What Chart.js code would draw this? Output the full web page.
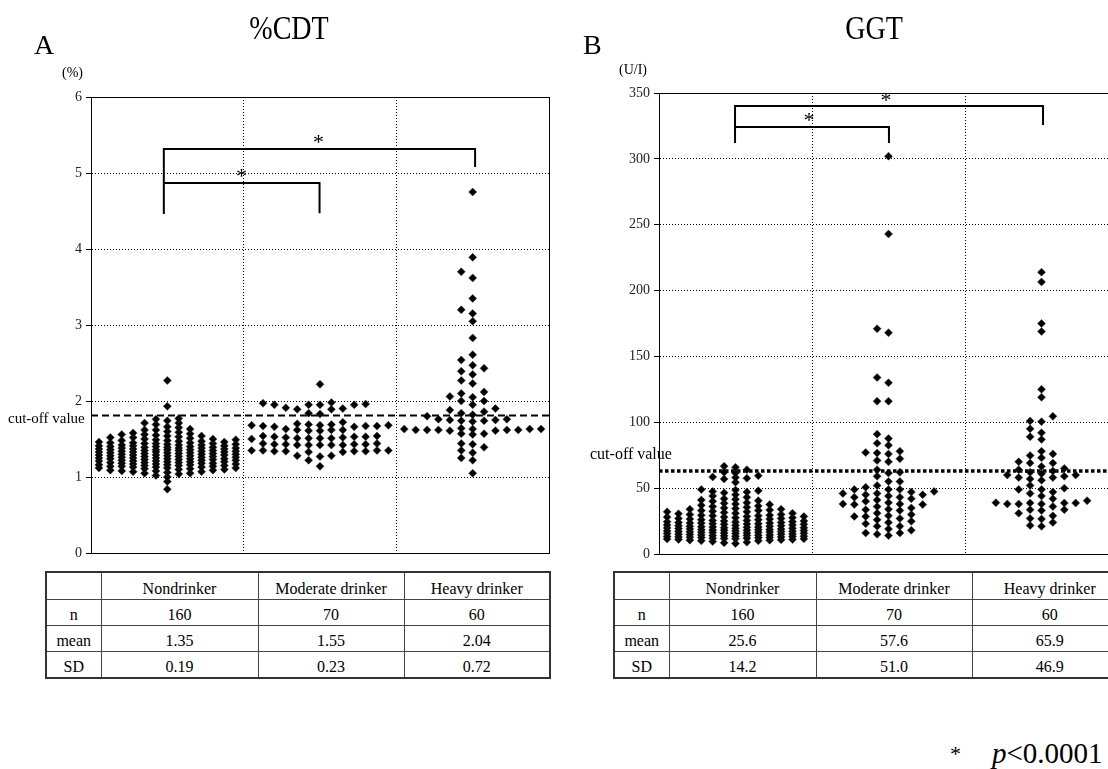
<!DOCTYPE html>
<html>
<head>
<meta charset="utf-8">
<script src="https://cdn.jsdelivr.net/npm/chart.js@4.4.0/dist/chart.umd.min.js"></script>
<style>
  body { margin: 0; width: 1108px; height: 769px; overflow: hidden; background: #fff; position: relative;
         font-family: "Liberation Serif", "DejaVu Serif", serif; color: #000; }
  canvas { position: absolute; top: 0; }
  .txt { position: absolute; line-height: 1; white-space: nowrap; }
  .title { transform-origin: center top; transform: scaleX(0.85); }
  table.stats { position: absolute; border-collapse: collapse; table-layout: fixed; font-size: 16px;
                border: 2px solid #333; }
  table.stats td { border: 1px solid #444; text-align: center; padding: 0; height: 23px; line-height: 1; vertical-align: bottom; padding-bottom: 2px; }
  table.stats tr:first-child td { height: 24px; }
</style>
</head>
<body>
<canvas id="cdt" width="560" height="570" style="left:0"></canvas>
<canvas id="ggt" width="580" height="570" style="left:560px"></canvas>

<div class="txt" style="left:34px;top:31px;font-size:28px">A</div>
<div class="txt title" style="left:239px;top:12px;width:100px;text-align:center;font-size:33px">%CDT</div>
<div class="txt" style="left:62px;top:66px;font-size:14px">(%)</div>
<div class="txt" style="left:8px;top:411px;font-size:15px">cut-off value</div>

<div class="txt" style="left:583px;top:31px;font-size:28px">B</div>
<div class="txt title" style="left:824px;top:12px;width:100px;text-align:center;font-size:33px">GGT</div>
<div class="txt" style="left:619px;top:63px;font-size:14px">(U/I)</div>
<div class="txt" style="left:590px;top:446px;font-size:16px">cut-off value</div>

<table class="stats" id="tblA" style="left:45px;top:571px;width:504px"></table>
<table class="stats" id="tblB" style="left:613px;top:571px;width:514px"></table>

<div class="txt" style="left:950px;top:743px;font-size:22px">*</div>
<div class="txt" style="left:992px;top:739px;font-size:29px"><i>p</i>&lt;0.0001</div>

<script>
const GROUPS = ['Nondrinker', 'Moderate drinker', 'Heavy drinker'];

// ---- A: %CDT ----
const cdtNondrinker = [
  2.27, 1.93, 1.77, 1.76, 1.74, 1.71, 1.71, 1.69, 1.66, 1.65, 1.63, 1.62, 1.62, 1.60, 1.59, 1.58,
  1.57, 1.56, 1.56, 1.55, 1.54, 1.54, 1.53, 1.52, 1.52, 1.51, 1.50, 1.50, 1.49, 1.49, 1.48, 1.48,
  1.47, 1.47, 1.46, 1.46, 1.45, 1.45, 1.44, 1.44, 1.44, 1.43, 1.43, 1.42, 1.42, 1.42, 1.41, 1.41,
  1.40, 1.40, 1.40, 1.39, 1.39, 1.39, 1.38, 1.38, 1.38, 1.37, 1.37, 1.37, 1.36, 1.36, 1.36, 1.35,
  1.35, 1.35, 1.34, 1.34, 1.34, 1.33, 1.33, 1.33, 1.32, 1.32, 1.32, 1.31, 1.31, 1.31, 1.30, 1.30,
  1.30, 1.29, 1.29, 1.29, 1.28, 1.28, 1.28, 1.27, 1.27, 1.27, 1.26, 1.26, 1.26, 1.25, 1.25, 1.25,
  1.24, 1.24, 1.24, 1.23, 1.23, 1.23, 1.22, 1.22, 1.22, 1.21, 1.21, 1.21, 1.20, 1.20, 1.20, 1.19,
  1.19, 1.19, 1.18, 1.18, 1.18, 1.17, 1.17, 1.17, 1.16, 1.16, 1.16, 1.15, 1.15, 1.15, 1.14, 1.14,
  1.14, 1.13, 1.13, 1.13, 1.12, 1.12, 1.12, 1.11, 1.11, 1.10, 1.10, 1.09, 1.09, 1.08, 1.08, 1.07,
  1.07, 1.06, 1.05, 1.05, 1.04, 1.02, 1.00, 0.94, 0.84, 1.36, 1.33, 1.29, 1.41, 1.45, 1.24, 1.38
];
const cdtModerate = [
  2.22,
  1.98, 1.96, 1.95, 1.95, 1.95, 1.95, 1.97,
  1.90, 1.89, 1.89, 1.91,
  1.84, 1.83,
  1.72, 1.69, 1.68, 1.67, 1.68, 1.67, 1.66, 1.67, 1.68, 1.69, 1.70, 1.66,
  1.62, 1.62, 1.61, 1.62, 1.63, 1.61,
  1.53, 1.52, 1.51, 1.50, 1.51, 1.53, 1.54, 1.53, 1.54, 1.51, 1.51, 1.52,
  1.43, 1.42, 1.42, 1.43, 1.44, 1.43, 1.42, 1.42, 1.43, 1.44, 1.42,
  1.35, 1.34, 1.33, 1.33, 1.34, 1.35, 1.34, 1.34, 1.35, 1.35,
  1.28, 1.27, 1.28,
  1.22, 1.14
];
const cdtHeavy = [
  4.75, 3.89, 3.70, 3.62, 3.35, 3.20, 3.15, 3.05, 2.83, 2.61,
  2.54, 2.47, 2.43, 2.39, 2.35, 2.27, 2.23, 2.12, 2.10, 2.06,
  2.05, 2.00, 2.00, 1.95, 1.90, 1.88, 1.86, 1.84, 1.82, 1.80,
  1.76, 1.76, 1.75, 1.74, 1.74, 1.73, 1.75,
  1.63, 1.62, 1.61, 1.62, 1.63, 1.62, 1.63, 1.64, 1.61, 1.62, 1.62, 1.63,
  1.57, 1.56, 1.57,
  1.44, 1.43, 1.39, 1.35, 1.32, 1.25, 1.22, 1.05
];
const cdtTicks = [0, 1, 2, 3, 4, 5, 6];
const cdtCutoff = 1.81;
const cdtN = [160, 70, 60];
const cdtMean = ['1.35', '1.55', '2.04'];
const cdtSD = ['0.19', '0.23', '0.72'];

// ---- B: GGT ----
const ggtNondrinker = [
  66.6, 65.8, 64.0, 62.0, 61.5, 59.5, 58.5, 58.0, 57.5, 57.0, 54.4, 49.0, 48.5, 48.0, 47.5, 47.0,
  46.5, 45.0, 44.0, 43.0, 42.0, 41.5, 41.0, 40.5, 40.0, 39.0, 38.5, 38.0, 37.5, 37.0, 36.5, 36.0,
  35.5, 35.0, 34.5, 34.0, 34.0, 33.5, 33.0, 33.0, 32.5, 32.0, 32.0, 31.5, 31.0, 31.0, 30.5, 30.0,
  30.0, 29.5, 29.5, 29.0, 29.0, 28.5, 28.5, 28.0, 28.0, 27.5, 27.5, 27.0, 27.0, 26.5, 26.5, 26.0,
  26.0, 25.5, 25.5, 25.0, 25.0, 24.5, 24.5, 24.0, 24.0, 23.5, 23.5, 23.0, 23.0, 22.5, 22.5, 22.0,
  22.0, 21.5, 21.5, 21.0, 21.0, 20.5, 20.5, 20.0, 20.0, 19.5, 19.5, 19.0, 19.0, 18.5, 18.5, 18.0,
  18.0, 17.5, 17.5, 17.0, 17.0, 16.5, 16.5, 16.0, 16.0, 15.5, 15.5, 15.0, 15.0, 14.5, 14.5, 14.0,
  14.0, 13.5, 13.5, 13.0, 13.0, 12.5, 12.5, 12.0, 12.0, 11.5, 11.5, 11.0, 11.0, 10.5, 10.5, 10.0,
  10.0, 9.5, 9.0, 8.5, 8.0, 13.2, 16.8, 19.3, 23.6, 21.8, 17.2, 14.8, 12.3, 15.7, 18.6, 11.8,
  20.7, 24.3, 13.8, 16.3, 19.8, 12.8, 22.8, 15.2, 17.8, 10.8, 14.3, 18.2, 20.3, 11.3, 16.7, 13.3
];
const ggtModerate = [
  302, 243, 171, 168, 134, 130, 116, 116,
  91, 87.6, 82.5, 84, 78, 76.7, 76, 77,
  72.4, 70, 71, 64, 61.5, 59, 62, 55, 55,
  45, 43, 49, 49, 46, 46, 47.5, 49, 50.6, 43, 45,
  41, 37.5, 38, 37.5, 36, 38, 40, 42,
  29, 28.5, 24.8, 28.5, 30, 33.6, 34,
  24, 21, 16, 15, 14, 16, 19, 21,
  44, 39, 35, 31, 27, 26, 23, 18, 47, 52, 33
];
const ggtHeavy = [
  214, 206.6, 175, 169, 125, 119, 104.5, 101, 100.5, 95, 92, 87, 89,
  78, 74.7, 76, 73, 70, 69, 69, 66.5, 64, 65, 62, 60, 58, 58, 60, 57,
  49, 46, 49, 40.5, 38.7, 38, 38, 38.7, 38.7, 38, 33.6, 33, 33.6, 27, 29, 26.6, 21.7, 21,
  63, 61, 59, 56, 52, 50, 47, 44, 42, 39, 36, 31, 24
];
const ggtTicks = [0, 50, 100, 150, 200, 250, 300, 350];
const ggtCutoff = 63;
const ggtN = [160, 70, 60];
const ggtMean = ['25.6', '57.6', '65.9'];
const ggtSD = ['14.2', '51.0', '46.9'];

// swarm layout (pixels): dense nondrinker column packs tighter than the others
const SLOT_PX = 11.4, SIDE_SLOTS = 6;
const GAPS_PX = [4.5, 6.5, 6.5];
const slotOrder = [0];
for (let k = 1; k <= SIDE_SLOTS; k++) slotOrder.push(-k, k);

Chart.defaults.font.family = "'Liberation Serif', 'DejaVu Serif', serif";
Chart.defaults.color = '#000';

function swarm(chart, values, center, gap) {
  const xs = chart.scales.x, ys = chart.scales.y;
  const unit = xs.getPixelForValue(1) - xs.getPixelForValue(0);
  const taken = new Map();
  return [...values].sort((a, b) => a - b).map(v => {
    const py = ys.getPixelForValue(v);
    let pick = 0, room = -1;
    for (const s of slotOrder) {
      const col = taken.get(s) || [];
      const d = col.length ? Math.min(...col.map(p => Math.abs(p - py))) : Infinity;
      if (d >= gap) { pick = s; break; }
      if (d > room) { pick = s; room = d; }
    }
    if (!taken.has(pick)) taken.set(pick, []);
    taken.get(pick).push(py);
    return { x: center + pick * SLOT_PX / unit, y: v };
  });
}

const framePlugin = {
  id: 'frame',
  beforeDatasetsDraw(chart) {
    const { ctx, chartArea: a } = chart;
    ctx.save();
    ctx.strokeStyle = '#000';
    ctx.lineWidth = 1;
    ctx.strokeRect(Math.round(a.left) + 0.5, Math.round(a.top) + 0.5,
                   Math.round(a.right - a.left), Math.round(a.bottom - a.top));
    ctx.restore();
  },
  afterDraw(chart, args, opts) {
    const { ctx, scales } = chart;
    ctx.save();
    ctx.fillStyle = '#000';
    ctx.font = "22px 'Liberation Serif'";
    ctx.textAlign = 'center';
    ctx.textBaseline = 'alphabetic';
    (opts.stars || []).forEach(s => {
      ctx.fillText('*', scales.x.getPixelForValue(s.x), scales.y.getPixelForValue(s.y) + 11);
    });
    ctx.restore();
  }
};

function makePanel(id, cfg) {
  const lo = cfg.ticks[0], hi = cfg.ticks[cfg.ticks.length - 1];
  const datasets = cfg.groups.map(() => ({
    type: 'scatter', data: [], pointStyle: 'rectRot', pointRadius: 4,
    backgroundColor: '#000', borderColor: '#333', borderWidth: 0.5
  }));
  datasets.push({
    type: 'line', data: [{ x: 0, y: cfg.cutoff }, { x: 3, y: cfg.cutoff }],
    borderColor: '#000', borderWidth: cfg.cutWidth, borderDash: cfg.cutDash,
    borderCapStyle: 'butt', pointRadius: 0
  });
  cfg.brackets.forEach(b => datasets.push({
    type: 'line', data: b, borderColor: '#000', borderWidth: 2, pointRadius: 0, clip: false
  }));

  const chart = new Chart(document.getElementById(id), {
    type: 'scatter',
    data: { datasets },
    plugins: [framePlugin],
    options: {
      responsive: false,
      animation: false,
      layout: { padding: cfg.padding },
      plugins: { legend: { display: false }, tooltip: { enabled: false }, frame: { stars: cfg.stars } },
      scales: {
        x: {
          type: 'linear', min: 0, max: 3,
          afterBuildTicks: s => { s.ticks = [0, 1, 2, 3].map(v => ({ value: v })); },
          afterFit: s => { s.height = 0; },
          ticks: { display: false },
          grid: {
            drawTicks: false, lineWidth: 1,
            color: c => (c.tick && c.tick.value > 0 && c.tick.value < 3) ? '#000' : 'rgba(0,0,0,0)'
          },
          border: { display: true, color: '#000', dash: [1, 2] }
        },
        y: {
          type: 'linear', min: lo, max: hi,
          afterBuildTicks: s => { s.ticks = cfg.ticks.map(v => ({ value: v })); },
          afterFit: s => { s.width = cfg.axisWidth; },
          ticks: { color: '#222', font: { size: 14 }, padding: 4 },
          grid: {
            lineWidth: 1, tickLength: 5, tickColor: '#000',
            color: c => (c.tick && c.tick.value > lo && c.tick.value < hi) ? '#000' : 'rgba(0,0,0,0)'
          },
          border: { display: true, color: '#000', dash: [1, 2] }
        }
      }
    }
  });

  cfg.groups.forEach((vals, i) => {
    chart.data.datasets[i].data = swarm(chart, vals, i + 0.5, GAPS_PX[i]);
  });
  chart.update('none');
  return chart;
}

makePanel('cdt', {
  groups: [cdtNondrinker, cdtModerate, cdtHeavy],
  ticks: cdtTicks,
  cutoff: cdtCutoff, cutWidth: 2, cutDash: [7, 4],
  padding: { top: 97, bottom: 17, left: 0, right: 11 },
  axisWidth: 91,
  brackets: [
    [{ x: 0.477, y: 4.46 }, { x: 0.477, y: 5.316 }, { x: 2.516, y: 5.316 }, { x: 2.516, y: 5.08 }],
    [{ x: 0.477, y: 4.868 }, { x: 1.497, y: 4.868 }, { x: 1.497, y: 4.47 }]
  ],
  stars: [{ x: 1.49, y: 5.46 }, { x: 0.985, y: 5.01 }]
});

makePanel('ggt', {
  groups: [ggtNondrinker, ggtModerate, ggtHeavy],
  ticks: ggtTicks,
  cutoff: ggtCutoff, cutWidth: 3.5, cutDash: [3.5, 2.5],
  padding: { top: 93, bottom: 16, left: 0, right: 22 },
  axisWidth: 99,
  brackets: [
    [{ x: 0.497, y: 312 }, { x: 0.497, y: 340.2 }, { x: 2.51, y: 340.2 }, { x: 2.51, y: 325.7 }],
    [{ x: 0.497, y: 324.2 }, { x: 1.503, y: 324.2 }, { x: 1.503, y: 312 }]
  ],
  stars: [{ x: 1.484, y: 347.7 }, { x: 0.98, y: 332.6 }]
});

function buildTable(el, widths, n, mean, sd) {
  const rows = [['', ...GROUPS], ['n', ...n], ['mean', ...mean], ['SD', ...sd]];
  el.innerHTML = '<colgroup>' + widths.map(w => `<col style="width:${w}px">`).join('') + '</colgroup>' +
    rows.map(r => '<tr>' + r.map(c => `<td>${c}</td>`).join('') + '</tr>').join('');
}
buildTable(document.getElementById('tblA'), [55, 157, 146, 146], cdtN, cdtMean, cdtSD);
buildTable(document.getElementById('tblB'), [55, 147, 156, 156], ggtN, ggtMean, ggtSD);
</script>
</body>
</html>
